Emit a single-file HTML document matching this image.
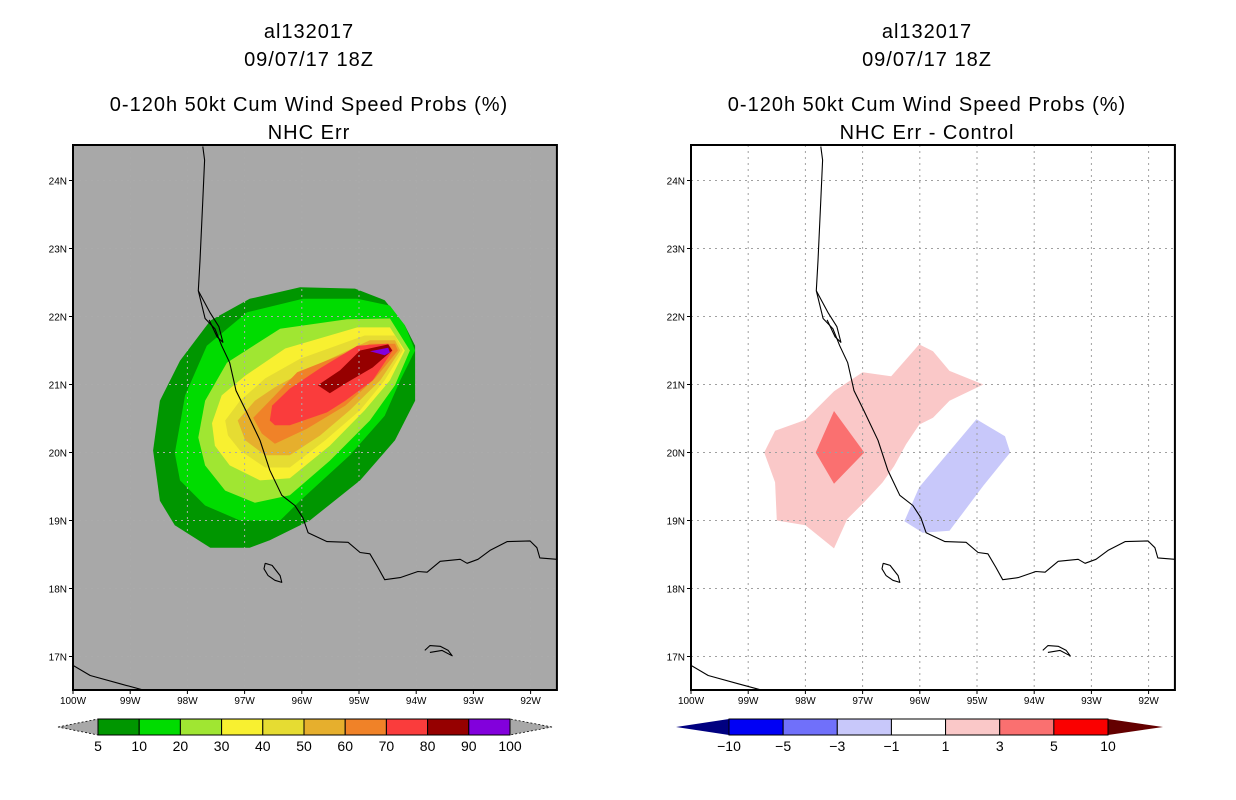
<!DOCTYPE html>
<html><head><meta charset="utf-8">
<style>
html,body{margin:0;padding:0;background:#fff;}
svg{display:block;font-family:"Liberation Sans",sans-serif;}
</style></head>
<body>
<svg id="root" width="1236" height="800" viewBox="0 0 1236 800" xmlns="http://www.w3.org/2000/svg"></svg>
<script>
// ---------- data ----------
const lonTicks = [-100,-99,-98,-97,-96,-95,-94,-93,-92];
const lonTickLabels = ["100W","99W","98W","97W","96W","95W","94W","93W","92W"];
const latTicks = [17,18,19,20,21,22,23,24];
const latTickLabels = ["17N","18N","19N","20N","21N","22N","23N","24N"];

// cumulative probability contours (lon, lat) — left panel
const probLevels = [5,10,20,30,40,50,60,70,80,90];
const probBarLabels = ["5","10","20","30","40","50","60","70","80","90","100"];
const probColors = ["#009600","#00DC00","#A0E632","#F8F030","#E6DC32","#E6AF2D","#F08228","#FA3C3C","#960000","#8200DC"];
const prob5 = [[-98.60,20.03],[-98.48,20.76],[-98.13,21.35],[-97.60,21.94],[-96.91,22.26],[-96.03,22.43],[-95.07,22.41],[-94.55,22.24],[-94.20,21.87],[-94.02,21.57],[-94.02,20.76],[-94.37,20.18],[-94.98,19.59],[-95.86,19.00],[-96.56,18.71],[-96.91,18.60],[-97.60,18.60],[-98.22,18.93],[-98.48,19.29]];
const prob10 = [[-98.22,19.99],[-98.04,20.84],[-97.66,21.57],[-96.96,22.06],[-95.98,22.26],[-95.03,22.26],[-94.46,22.16],[-94.20,21.87],[-94.02,21.50],[-94.28,21.06],[-94.55,20.54],[-95.16,19.96],[-96.03,19.29],[-96.38,19.00],[-97.08,19.00],[-97.69,19.22],[-98.13,19.59]];
const prob20 = [[-97.81,20.22],[-97.69,20.76],[-97.31,21.32],[-96.38,21.82],[-95.21,21.96],[-94.46,21.97],[-94.11,21.50],[-94.37,20.99],[-94.81,20.47],[-95.51,19.88],[-96.21,19.37],[-96.82,19.26],[-97.34,19.44],[-97.69,19.81]];
const prob30 = [[-97.57,20.43],[-97.40,20.84],[-96.99,21.13],[-96.29,21.53],[-95.03,21.84],[-94.46,21.84],[-94.20,21.50],[-94.46,21.06],[-94.90,20.62],[-95.51,20.10],[-96.21,19.62],[-96.73,19.59],[-97.26,19.81],[-97.52,20.10]];
const prob40 = [[-97.34,20.47],[-97.08,20.76],[-96.64,21.09],[-96.03,21.38],[-94.90,21.72],[-94.37,21.72],[-94.23,21.50],[-94.55,21.06],[-94.98,20.62],[-95.59,20.18],[-96.21,19.78],[-96.64,19.78],[-97.08,20.03],[-97.29,20.25]];
const prob50 = [[-97.12,20.47],[-96.82,20.76],[-96.47,20.96],[-95.86,21.24],[-94.81,21.65],[-94.37,21.65],[-94.28,21.50],[-94.63,21.06],[-95.16,20.62],[-95.68,20.25],[-96.21,19.96],[-96.64,19.96],[-96.99,20.18]];
const prob60 = [[-96.85,20.51],[-96.56,20.76],[-96.08,21.18],[-95.33,21.43],[-94.81,21.60],[-94.37,21.60],[-94.32,21.50],[-94.72,21.09],[-95.24,20.69],[-95.91,20.35],[-96.47,20.13],[-96.70,20.28]];
const prob70 = [[-96.56,20.47],[-96.52,20.69],[-96.21,20.94],[-95.68,21.24],[-95.03,21.57],[-94.49,21.60],[-94.41,21.50],[-94.76,21.06],[-95.24,20.76],[-95.56,20.59],[-96.21,20.40],[-96.47,20.40]];
const prob80 = [[-95.72,20.99],[-95.33,21.21],[-94.98,21.50],[-94.49,21.59],[-94.42,21.50],[-94.76,21.25],[-95.21,21.03],[-95.51,20.87]];
const prob90 = [[-94.81,21.49],[-94.49,21.54],[-94.46,21.47],[-94.55,21.43]];
const probPolys = [prob5,prob10,prob20,prob30,prob40,prob50,prob60,prob70,prob80,prob90];

// difference field (NHC Err - Control) — right panel
const diffLabels = ["-10","-5","-3","-1","1","3","5","10"];
const diffColors = ["#0000F5","#7070FA","#C8C8FA","#FFFFFF","#FAC8C8","#FA7070","#FA0000"];
const diffLowColor = "#000080";
const diffHighColor = "#640000";
const diffPos1 = [[-98.72,20.00],[-98.53,20.32],[-98.00,20.48],[-97.50,20.90],[-97.00,21.18],[-96.50,21.12],[-96.01,21.59],[-95.77,21.49],[-95.48,21.20],[-94.89,21.00],[-95.48,20.76],[-95.77,20.51],[-96.01,20.41],[-96.24,20.12],[-96.45,19.80],[-96.65,19.56],[-96.97,19.27],[-97.27,19.02],[-97.50,18.59],[-98.00,18.93],[-98.50,19.00],[-98.53,19.56]];
const diffPos3 = [[-97.82,20.00],[-97.50,20.61],[-96.97,20.00],[-97.50,19.54]];
const diffNeg1 = [[-96.27,18.99],[-96.01,19.49],[-95.01,20.49],[-94.51,20.24],[-94.42,20.00],[-94.89,19.51],[-95.48,18.85],[-95.95,18.82]];

// coastline (lon, lat)
const coastMain = [[-97.73,24.50],[-97.70,24.30],[-97.73,23.71],[-97.78,22.82],[-97.81,22.38],[-97.69,21.97],[-97.52,21.82],[-97.40,21.57],[-97.26,21.32],[-97.15,20.91],[-96.98,20.62],[-96.73,20.18],[-96.56,19.74],[-96.35,19.37],[-96.12,19.22],[-95.98,19.04],[-95.89,18.82],[-95.56,18.69],[-95.19,18.68],[-94.98,18.53],[-94.81,18.51],[-94.67,18.31],[-94.55,18.13],[-94.28,18.16],[-93.97,18.25],[-93.81,18.24],[-93.58,18.40],[-93.23,18.43],[-93.11,18.37],[-92.92,18.43],[-92.71,18.56],[-92.41,18.69],[-92.01,18.70],[-91.89,18.60],[-91.84,18.45],[-91.54,18.43]];
const coastLagoon = [[-97.81,22.38],[-97.60,22.05],[-97.45,21.85],[-97.38,21.62],[-97.48,21.70],[-97.62,21.95]];
const coastSW = [[-100,16.87],[-99.70,16.72],[-99.18,16.60],[-98.74,16.50]];
const island1 = [[-96.64,18.37],[-96.52,18.34],[-96.38,18.19],[-96.35,18.09],[-96.47,18.12],[-96.59,18.19],[-96.66,18.29],[-96.64,18.37]];
const island2 = [[-93.85,17.09],[-93.76,17.16],[-93.58,17.15],[-93.44,17.09],[-93.37,17.01],[-93.55,17.09],[-93.76,17.06]];

// ---------- drawing ----------
const NS = "http://www.w3.org/2000/svg";
const root = document.getElementById('root');
function mk(tag, attrs, parent){
  const e = document.createElementNS(NS, tag);
  for (const k in attrs) e.setAttribute(k, attrs[k]);
  (parent||root).appendChild(e);
  return e;
}
const PX_LON = 57.2, PX_LAT = 68, TOP = 145, BOT = 690, LAT0 = 24, Y24 = 180.5;
const LON_MIN = -100, LON_MAX = -91.54;
function xScale(x0){ return lon => x0 + (lon - LON_MIN) * PX_LON; }
function yScale(lat){ return Y24 + (LAT0 - lat) * PX_LAT; }
function pts(poly, xs){ return poly.map(p => xs(p[0]).toFixed(1)+','+yScale(p[1]).toFixed(1)).join(' '); }

function drawPanel(x0, bg, gridColor, fillFn, cx, t1, t2, t3, t4, name){
  const xs = xScale(x0);
  const g = mk('g', {});
  
  
  const wpx = (LON_MAX - LON_MIN) * PX_LON;
  const clipId = 'clip-' + name;
  const cp = mk('clipPath', {id: clipId}, g);
  mk('rect', {x: x0, y: TOP, width: wpx, height: BOT - TOP}, cp);
  const bgR = mk('rect', {x: x0, y: TOP, width: wpx, height: BOT - TOP, fill: bg}, g);
  
  
  const inner = mk('g', {'clip-path': 'url(#' + clipId + ')'}, g);
  fillFn(inner, xs);
  const grid = mk('g', {stroke: gridColor, 'stroke-width': 1, 'stroke-dasharray': '2,4', fill: 'none'}, inner);
  
  
  lonTicks.slice(1).forEach(l => mk('line', {x1: xs(l), x2: xs(l), y1: TOP, y2: BOT}, grid));
  latTicks.forEach(l => mk('line', {x1: x0, x2: x0 + wpx, y1: yScale(l), y2: yScale(l)}, grid));
  const coast = mk('g', {stroke: '#000', 'stroke-width': 1.1, fill: 'none', 'stroke-linejoin': 'round'}, inner);
  
  
  [coastMain, coastLagoon, coastSW, island1, island2].forEach(c => mk('polyline', {points: pts(c, xs)}, coast));
  const fr = mk('rect', {x: x0, y: TOP, width: wpx, height: BOT - TOP, fill: 'none', stroke: '#000', 'stroke-width': 2}, g);
  
  
  lonTicks.forEach((l, i) => {
    mk('line', {x1: xs(l), x2: xs(l), y1: BOT, y2: BOT + 4, stroke: '#000'}, g);
    const t = mk('text', {x: xs(l), y: BOT + 14, 'font-size': 10, 'text-anchor': 'middle'}, g);
    t.textContent = lonTickLabels[i];
    
    
  });
  latTicks.forEach((l, i) => {
    mk('line', {x1: x0 - 4, x2: x0, y1: yScale(l), y2: yScale(l), stroke: '#000'}, g);
    const t = mk('text', {x: x0 - 6, y: yScale(l) + 4, 'font-size': 10, 'text-anchor': 'end'}, g);
    t.textContent = latTickLabels[i];
    
    
  });
  [[t1, 38], [t2, 66], [t3, 111], [t4, 139]].forEach((tt, i) => {
    const t = mk('text', {x: cx, y: tt[1], 'font-size': 20, 'text-anchor': 'middle', 'letter-spacing': '1'}, g);
    t.textContent = tt[0];
    
    
  });
}

drawPanel(73, '#A8A8A8', '#ABABAB', (g, xs) => {
  probPolys.forEach((poly, i) => {
    const p = mk('polygon', {points: pts(poly, xs), fill: probColors[i]}, g);
    
    
  });
}, 309, 'al132017', '09/07/17 18Z', '0-120h 50kt Cum Wind Speed Probs (%)', 'NHC Err', 'left-panel');

drawPanel(691, '#FFFFFF', '#A0A0A0', (g, xs) => {
  const a = mk('polygon', {points: pts(diffPos1, xs), fill: diffColors[4]}, g);
  
  
  const b = mk('polygon', {points: pts(diffPos3, xs), fill: diffColors[5]}, g);
  
  
  const c = mk('polygon', {points: pts(diffNeg1, xs), fill: diffColors[2]}, g);
  
  
}, 927, 'al132017', '09/07/17 18Z', '0-120h 50kt Cum Wind Speed Probs (%)', 'NHC Err - Control', 'right-panel');

function colorbar(x0, x1, tipL, tipR, colors, labels, lowC, highC, dashTri, name){
  const g = mk('g', {});
  
  
  const y0 = 719, y1 = 735, ym = 727;
  const n = colors.length, w = (x1 - x0) / n;
  const tl = mk('polygon', {points: `${tipL},${ym} ${x0},${y0} ${x0},${y1}`, fill: lowC, stroke: dashTri ? '#000' : 'none', 'stroke-dasharray': dashTri ? '2,2' : '', 'stroke-width': dashTri ? 0.8 : 0}, g);
  
  
  const tr = mk('polygon', {points: `${tipR},${ym} ${x1},${y0} ${x1},${y1}`, fill: highC, stroke: dashTri ? '#000' : 'none', 'stroke-dasharray': dashTri ? '2,2' : '', 'stroke-width': dashTri ? 0.8 : 0}, g);
  
  
  colors.forEach((c, i) => {
    const r = mk('rect', {x: x0 + i * w, y: y0, width: w, height: y1 - y0, fill: c, stroke: '#000', 'stroke-width': 1}, g);
    
    
  });
  labels.forEach((l, i) => {
    const t = mk('text', {x: x0 + i * w, y: 751, 'font-size': 14, 'text-anchor': 'middle'}, g);
    t.textContent = l.replace('-', '\u2212');
    
    
  });
}
colorbar(98, 510, 58, 552, probColors, probBarLabels, '#A8A8A8', '#A8A8A8', true, 'left-colorbar');
colorbar(729, 1108, 676, 1163, diffColors, diffLabels, diffLowColor, diffHighColor, false, 'right-colorbar');
</script>
</body></html>
